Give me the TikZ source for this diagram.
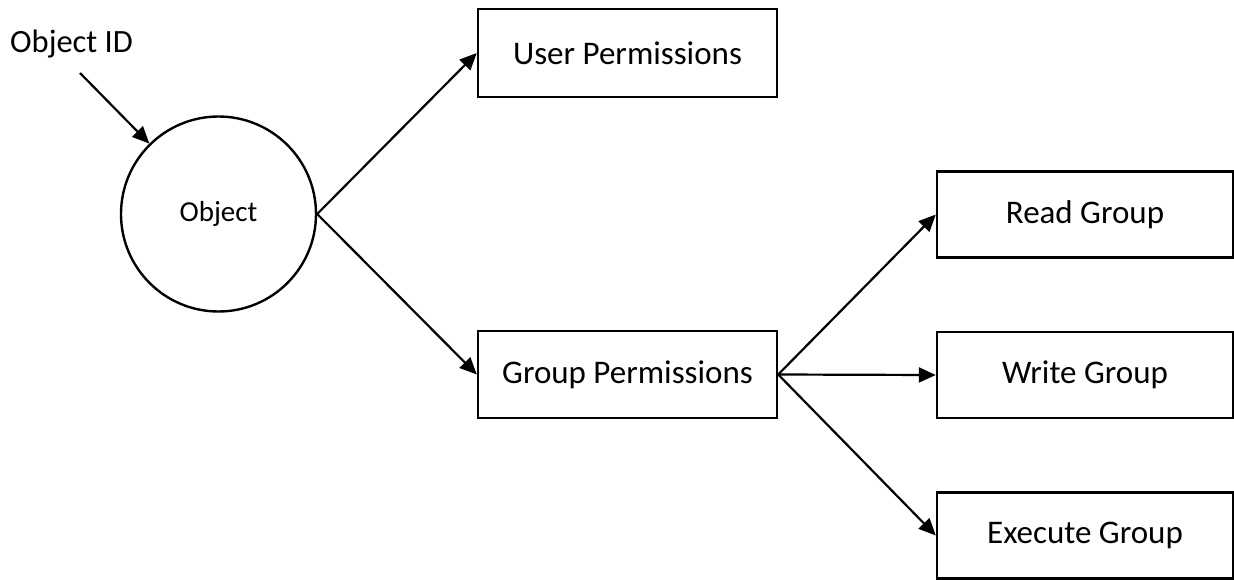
\documentclass[tikz,border=0pt]{standalone}
\usepackage{fontspec}
\setmainfont{Carlito}
\usetikzlibrary{arrows.meta}
\begin{document}
\begin{tikzpicture}[x=1pt,y=-1pt,
  box/.style={draw,line width=2.4pt,minimum height=86pt,inner sep=0pt,font=\fontsize{33}{38}\selectfont},
  conn/.style={line width=2.2pt,-{Triangle[length=17pt,width=15pt]}}]
\useasboundingbox (0,0) rectangle (1234,579);
\node[anchor=base west,inner sep=0pt,font=\fontsize{32.5}{37}\selectfont] (oid) at (10,52) {Object ID};
\coordinate (oidstart) at (80,73);
\node[draw,circle,line width=2.4pt,minimum size=195pt,inner sep=0pt,font=\fontsize{29}{34}\selectfont] (obj) at (218.5,214) {Object};
\node[box,minimum width=299pt,minimum height=88pt] (user) at (627.5,53) {User Permissions};
\node[box,minimum width=299pt,minimum height=87pt] (group) at (627.5,374.5) {Group Permissions};
\node[box,minimum width=296pt] (read) at (1085,214.5) {Read Group};
\node[box,minimum width=296pt] (write) at (1085,375) {Write Group};
\node[box,minimum width=296pt] (exec) at (1085,535.5) {Execute Group};
\draw[conn] (oidstart) -- (obj);
\draw[conn] (obj.east) -- (user.west);
\draw[conn] (obj.east) -- (group.west);
\draw[conn] (group.east) -- (read.west);
\draw[conn] (group.east) -- (write.west);
\draw[conn] (group.east) -- (exec.west);
\end{tikzpicture}
\end{document}
